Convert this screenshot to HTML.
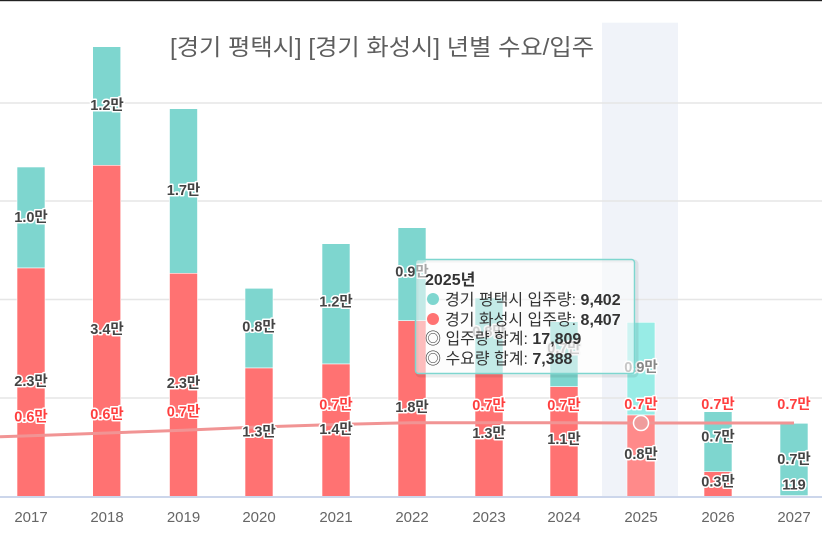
<!DOCTYPE html>
<html>
<head>
<meta charset="utf-8">
<style>
  html,body{margin:0;padding:0;background:#fff;}
  svg{display:block;}
  .lbl{font-family:"Liberation Sans","Noto Sans CJK KR",sans-serif;font-size:14.5px;font-weight:bold;text-anchor:middle;fill:#444;stroke:#fff;stroke-width:3px;stroke-linejoin:round;paint-order:stroke;}
  .red{fill:#ff3f3f;}
  .fade{fill:#9a9a9a;stroke:#f4f4f4;}
  .ax{font-family:"Liberation Sans","Noto Sans CJK KR",sans-serif;font-size:15px;fill:#666;text-anchor:middle;}
  .tt{font-family:"Liberation Sans","Noto Sans CJK KR",sans-serif;font-size:16px;fill:#333;}
</style>
</head>
<body>
<svg width="822" height="539" viewBox="0 0 822 539" xmlns="http://www.w3.org/2000/svg">
  <rect x="0" y="0" width="822" height="539" fill="#fff"/>
  <rect x="0" y="0" width="822" height="1.2" fill="#222"/>

  <!-- highlight band -->
  <rect x="602" y="22.7" width="76" height="474" fill="#f0f3f9"/>

  <!-- gridlines -->
  <g stroke="#e6e6e6" stroke-width="1.5">
    <line x1="0" y1="103" x2="822" y2="103"/>
    <line x1="0" y1="201" x2="822" y2="201"/>
    <line x1="0" y1="299.5" x2="822" y2="299.5"/>
    <line x1="0" y1="398" x2="822" y2="398"/>
  </g>

  <!-- title -->
  <text x="382" y="55" text-anchor="middle" textLength="424" lengthAdjust="spacingAndGlyphs" style="font-family:'Liberation Sans','Noto Sans CJK KR',sans-serif;font-size:23px;fill:#5e5e5e;">[경기 평택시] [경기 화성시] 년별 수요/입주</text>

  <!-- bars -->
  <g stroke="#fff" stroke-width="0.6">
    <rect x="17" y="167" width="28" height="101" fill="#7ed6cf"/>
    <rect x="17" y="268" width="28" height="228.5" fill="#ff7272"/>
    <rect x="92.7" y="46.7" width="28" height="118.6" fill="#7ed6cf"/>
    <rect x="92.7" y="165.3" width="28" height="331.2" fill="#ff7272"/>
    <rect x="169.5" y="108.7" width="28" height="164.6" fill="#7ed6cf"/>
    <rect x="169.5" y="273.3" width="28" height="223.2" fill="#ff7272"/>
    <rect x="245" y="288.3" width="28" height="79.7" fill="#7ed6cf"/>
    <rect x="245" y="368" width="28" height="128.5" fill="#ff7272"/>
    <rect x="322" y="243.7" width="28" height="120.3" fill="#7ed6cf"/>
    <rect x="322" y="364" width="28" height="132.5" fill="#ff7272"/>
    <rect x="398" y="227.7" width="28" height="93" fill="#7ed6cf"/>
    <rect x="398" y="320.7" width="28" height="175.8" fill="#ff7272"/>
    <rect x="475" y="298" width="28" height="75.5" fill="#7ed6cf"/>
    <rect x="475" y="373.5" width="28" height="123" fill="#ff7272"/>
    <rect x="550" y="321.7" width="28" height="65" fill="#7ed6cf"/>
    <rect x="550" y="386.7" width="28" height="109.8" fill="#ff7272"/>
    <rect x="627" y="322.3" width="28" height="92.7" fill="#98ece6"/>
    <rect x="627" y="415" width="28" height="81.5" fill="#ff8a8a"/>
    <rect x="704" y="411.7" width="28" height="60" fill="#7ed6cf"/>
    <rect x="704" y="471.7" width="28" height="24.8" fill="#ff7272"/>
    <rect x="780" y="423.3" width="28" height="72.4" fill="#7ed6cf"/>
    <rect x="780" y="495.7" width="28" height="0.8" fill="#ff7272"/>
  </g>

  <!-- axis line -->
  <rect x="0" y="496" width="822" height="2" fill="#ccd6eb"/>

  <!-- demand line -->
  <polyline fill="none" stroke="#f19494" stroke-width="3" stroke-linejoin="round"
    points="0,436.8 31,435.7 107,433 183.5,430.2 259,427 336,424.5 412,422.7 489,422.8 564,422.8 641,423 718,423 794,423"/>
  <circle cx="641" cy="423" r="7.5" fill="#ef9c9c" stroke="#fff" stroke-width="1.5"/>

  <!-- data labels -->
  <g class="lbl">
    <text x="31" y="222">1.0만</text>
    <text x="31" y="386">2.3만</text>
    <text x="31" y="421.5" class="red">0.6만</text>

    <text x="107" y="110">1.2만</text>
    <text x="107" y="334">3.4만</text>
    <text x="107" y="419" class="red">0.6만</text>

    <text x="183.5" y="195">1.7만</text>
    <text x="183.5" y="388">2.3만</text>
    <text x="183.5" y="416.5" class="red">0.7만</text>

    <text x="259" y="331.5">0.8만</text>
    <text x="259" y="436.5">1.3만</text>

    <text x="336" y="306.5">1.2만</text>
    <text x="336" y="409.5" class="red">0.7만</text>
    <text x="336" y="434">1.4만</text>

    <text x="412" y="276.5">0.9만</text>
    <text x="412" y="412">1.8만</text>

    <text x="489" y="336.5" class="fade">0.8만</text>
    <text x="489" y="410" class="red">0.7만</text>
    <text x="489" y="438">1.3만</text>

    <text x="564" y="353" class="fade">0.7만</text>
    <text x="564" y="410" class="red">0.7만</text>
    <text x="564" y="444">1.1만</text>

    <text x="641" y="372" style="fill:#888">0.9만</text>
    <text x="641" y="409" class="red">0.7만</text>
    <text x="641" y="459">0.8만</text>

    <text x="718" y="409" class="red">0.7만</text>
    <text x="718" y="441.5">0.7만</text>
    <text x="718" y="486.5">0.3만</text>

    <text x="794" y="409" class="red">0.7만</text>
    <text x="794" y="464">0.7만</text>
    <text x="794" y="489.5">119</text>
  </g>

  <!-- x axis labels -->
  <g class="ax">
    <text x="31" y="522">2017</text>
    <text x="107" y="522">2018</text>
    <text x="183.5" y="522">2019</text>
    <text x="259" y="522">2020</text>
    <text x="336" y="522">2021</text>
    <text x="412" y="522">2022</text>
    <text x="489" y="522">2023</text>
    <text x="564" y="522">2024</text>
    <text x="641" y="522">2025</text>
    <text x="718" y="522">2026</text>
    <text x="794" y="522">2027</text>
  </g>

  <!-- tooltip -->
  <rect x="417" y="261" width="220" height="115" rx="3" fill="none" stroke="#000" stroke-opacity="0.08" stroke-width="3"/>
  <rect x="415.5" y="259.5" width="219" height="114" rx="3" fill="rgba(252,252,252,0.55)" stroke="#7ed6cf" stroke-width="1.5"/>
  <g class="tt">
    <text x="425" y="285" font-weight="bold">2025년</text>
    <circle cx="433" cy="299" r="6" fill="#7ed6cf"/>
    <text x="445" y="305">경기 평택시 입주량: <tspan font-weight="bold">9,402</tspan></text>
    <circle cx="433" cy="319" r="6" fill="#ff7272"/>
    <text x="445" y="325">경기 화성시 입주량: <tspan font-weight="bold">8,407</tspan></text>
    <text x="425" y="344">◎ 입주량 합계: <tspan font-weight="bold">17,809</tspan></text>
    <text x="425" y="364">◎ 수요량 합계: <tspan font-weight="bold">7,388</tspan></text>
  </g>
</svg>
</body>
</html>
